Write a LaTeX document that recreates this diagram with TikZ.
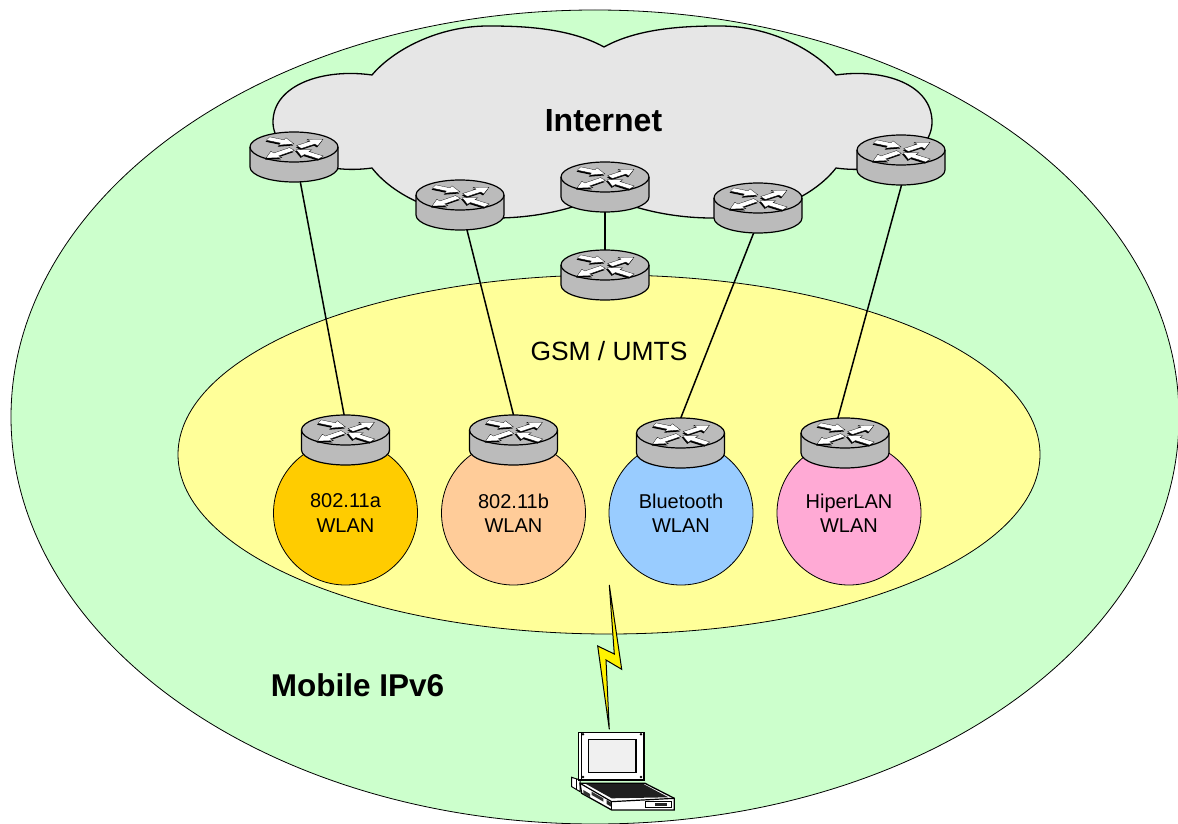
\documentclass[tikz,border=0pt]{standalone}
\usepackage{fontspec}
\setmainfont{Liberation Sans}
\usetikzlibrary{shapes.geometric}
\definecolor{zonegreen}{HTML}{CCFFCC}
\definecolor{zoneyellow}{HTML}{FFFF99}
\definecolor{cloudgrey}{HTML}{E6E6E6}
\definecolor{routergrey}{HTML}{BBBBBB}
\definecolor{wlana}{HTML}{FFCC00}
\definecolor{wlanb}{HTML}{FFCC99}
\definecolor{wlanc}{HTML}{99CCFF}
\definecolor{wland}{HTML}{FFAAD5}
\newcommand{\rarrowshape}[1]{(0,-4) -- (#1-13,-4) -- (#1-13,-9) -- (#1,0) -- (#1-13,9) -- (#1-13,4) -- (0,4) -- cycle}
\newcommand{\rarrow}[4]{%
  \fill[black,shift={(#1-.8,#2+1.6)},yscale=.45,rotate=#3] \rarrowshape{#4};
  \fill[white,shift={(#1,#2)},yscale=.45,rotate=#3] \rarrowshape{#4};
  \draw[black,line width=.25pt,shift={(#1,#2)},yscale=.45,rotate=#3] \rarrowshape{#4};}
\tikzset{
  zone/.style={ellipse,draw=black,line width=.8pt,inner sep=0pt},
  wlan/.style={circle,draw=black,line width=.8pt,minimum size=144pt,inner sep=0pt,align=center,font=\fontsize{20}{24.5}\selectfont},
  link/.style={draw=black,line width=1.5pt},
  router/.pic={
    \filldraw[fill=routergrey,draw=black,line width=1.2pt]
      (-44,0) -- (-44,20) arc[start angle=180,end angle=360,x radius=44,y radius=-15] -- (44,0)
      arc[start angle=0,end angle=180,x radius=44,y radius=-15] -- cycle;
    \draw[line width=1.2pt] (-44,0) arc[start angle=180,end angle=360,x radius=44,y radius=-15];
    \rarrow{-26}{-8.5}{-24.8}{28.6}
    \rarrow{5}{0}{36}{29.7}
    \rarrow{-2}{2}{217.6}{32.8}
    \rarrow{27}{10.5}{145}{30.5}
  }
}
\begin{document}
\begin{tikzpicture}[x=1pt,y=-1pt]
\useasboundingbox (0,0) rectangle (1178,824);
\fill[white] (0,0) rectangle (1178,824);
\node[zone,fill=zonegreen,minimum width=1168pt,minimum height=814pt] (mobile) at (595,417) {};
% cloud
\filldraw[fill=cloudgrey,draw=black,line width=1.3pt]
  (604,47) .. controls (640,27) and (690,26) .. (720,26)
  .. controls (770,26) and (815,50) .. (836,75)
  .. controls (885,68) and (932,85) .. (932,122)
  .. controls (932,155) and (885,175) .. (836,168)
  .. controls (815,195) and (770,218) .. (712,218)
  .. controls (680,218) and (640,212) .. (604,195)
  .. controls (568,212) and (528,218) .. (496,218)
  .. controls (438,218) and (393,195) .. (372,168)
  .. controls (323,175) and (273,155) .. (273,122)
  .. controls (273,85) and (323,68) .. (372,75)
  .. controls (393,50) and (438,26) .. (488,26)
  .. controls (518,26) and (568,27) .. (604,47) -- cycle;
\node[zone,fill=zoneyellow,minimum width=862pt,minimum height=359pt] (gsm) at (609,454.5) {};
\node[font=\bfseries\fontsize{32}{36}\selectfont] (internet) at (603.5,121) {Internet};
\node[font=\fontsize{26.4}{30}\selectfont] (gsmlabel) at (609,351) {GSM / UMTS};
\node[font=\bfseries\fontsize{31.5}{36}\selectfont] (mobilelabel) at (357.5,685) {Mobile IPv6};
% WLAN cells
\node[wlan,fill=wlana] (wa) at (345.5,513) {802.11a\\WLAN};
\node[wlan,fill=wlanb] (wb) at (513.5,513) {802.11b\\WLAN};
\node[wlan,fill=wlanc] (wc) at (681,513) {Bluetooth\\WLAN};
\node[wlan,fill=wland] (wd) at (849,513) {HiperLAN\\WLAN};
% router positions
\coordinate (r1) at (294,147);
\coordinate (r2) at (460,195);
\coordinate (r3) at (605,177);
\coordinate (r4) at (758,198);
\coordinate (r5) at (901,150);
\coordinate (rg) at (605,265);
\coordinate (ra) at (345.5,430);
\coordinate (rb) at (513.5,430);
\coordinate (rc) at (680.5,433);
\coordinate (rd) at (845,433);
% link ends, under the routers
\coordinate (l1a) at (299,175);  \coordinate (l1b) at (346,425);
\coordinate (l2a) at (465,222);  \coordinate (l2b) at (516,425);
\coordinate (l4a) at (756,227);  \coordinate (l4b) at (678,425);
\coordinate (l5a) at (904,176);  \coordinate (l5b) at (836,425);
% links
\path[link] (l1a) -- (l1b);
\path[link] (l2a) -- (l2b);
\path[link] (r3) -- (rg);
\path[link] (l4a) -- (l4b);
\path[link] (l5a) -- (l5b);
% routers
\foreach \r in {r1,r2,r3,r4,r5,rg,ra,rb,rc,rd} \pic at (\r) {router};
% lightning
\coordinate (ltop) at (609.3,585);
\coordinate (lbot) at (609.3,729.3);
\filldraw[fill=yellow,draw=black,line width=1pt,line join=miter]
  (ltop) -- (621.7,669.3) -- (606,660) -- (lbot) -- (597.7,646) -- (614.3,654) -- cycle;
% laptop
\begin{scope}[shift={(550,580)},x=.3333pt,y=-.3333pt]
  \filldraw[fill=white,draw=black,line width=1pt] (65,592) -- (90,600) -- (90,635) -- (65,620) -- cycle;
  \draw[line width=.8pt] (78,596) -- (78,628);
  \filldraw[fill=white,draw=black,line width=1.3pt] (90,610) -- (285,610) -- (373,655) -- (373,690) -- (185,690) -- (95,640) -- cycle;
  \fill[black!88] (108,612) -- (280,612) -- (355,652) -- (185,655) -- cycle;
  \draw[line width=1.2pt] (90,610) -- (185,665) -- (373,655);
  \draw[line width=1.2pt] (185,665) -- (185,690);
  \fill[black!80] (125,635) -- (160,655) -- (160,665) -- (125,645) -- cycle;
  \fill[black!80] (100,630) -- (120,642) -- (120,652) -- (100,642) -- cycle;
  \fill[black!85] (170,660) -- (183,668) -- (183,680) -- (170,672) -- cycle;
  \filldraw[fill=white,draw=black,line width=1pt] (287,665) rectangle (365,683);
  \fill[black!85] (315,668) rectangle (350,678);
  \filldraw[fill=white,draw=black,line width=1.2pt] (85,457) rectangle (282,600);
  \draw[line width=1pt] (93,457) -- (93,600);
  \filldraw[fill=cloudgrey!60!white,draw=black,line width=1.2pt] (115,478) rectangle (258,577);
  \foreach \p in {(99,463),(273,463),(99,591),(273,591)} \fill \p circle[radius=4];
\end{scope}
\end{tikzpicture}
\end{document}
